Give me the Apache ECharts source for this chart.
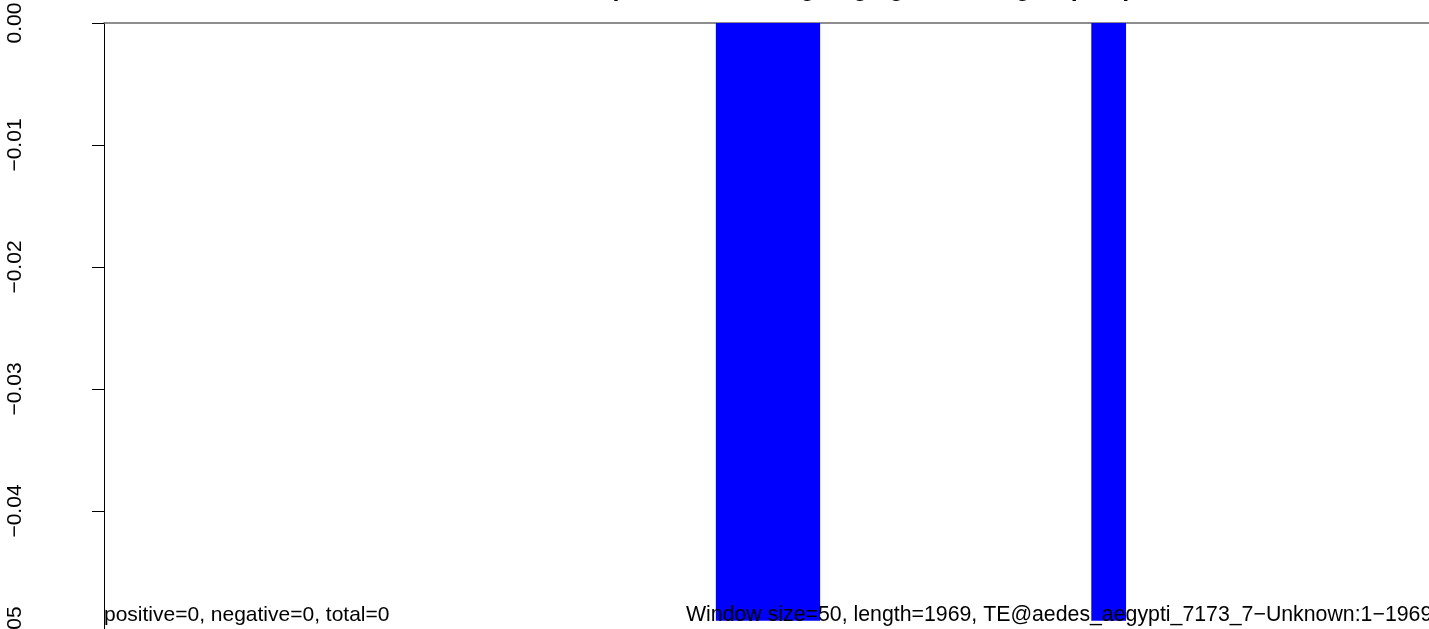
<!DOCTYPE html>
<html>
<head>
<meta charset="utf-8">
<script src="https://cdn.jsdelivr.net/npm/echarts@6/dist/echarts.min.js"></script>
<style>
  html, body { margin: 0; padding: 0; background: #ffffff; overflow: hidden; }
  #chart { width: 1473px; height: 640px; }
</style>
</head>
<body>
<div id="chart"></div>
<script>
// Data
const seqLength = 1969;
const windowStart = [880, 1420];      // bp
const windowEnd = [1030, 1470];       // bp
const windowValue = [-0.049, -0.049]; // bar depth
const yTicks = [0, -0.01, -0.02, -0.03, -0.04, -0.05];
const titleText = 'Strand-specific reads aligning against TE, grouped per window';
const leftNote = 'positive=0, negative=0, total=0';
const rightNote = 'Window size=50, length=1969, TE@aedes_aegypti_7173_7\u2212Unknown:1\u22121969';

const barData = windowStart.map((s, i) => [s, windowEnd[i], windowValue[i]]);

const dom = document.getElementById('chart');
const chart = echarts.init(dom, null, { renderer: 'canvas', width: 1473, height: 640 });
const font = '"Liberation Sans", Arial, Helvetica, sans-serif';

chart.setOption({
  animation: false,
  backgroundColor: '#ffffff',
  title: [
    { text: titleText, left: 506, top: -28,
      textStyle: { fontFamily: font, fontSize: 25, fontWeight: 'bold', color: '#000' } },
    { text: leftNote, left: 99, top: 600,
      textStyle: { fontFamily: font, fontSize: 21, fontWeight: 'normal', color: '#000' } },
    { text: rightNote, left: 681, top: 600,
      textStyle: { fontFamily: font, fontSize: 21.3, fontWeight: 'normal', color: '#000' } }
  ],
  grid: { left: 104, right: 0, top: 23, bottom: 7, containLabel: false, outerBoundsMode: 'none' },
  xAxis: {
    type: 'value', min: 0, max: seqLength, position: 'top',
    axisLine: { show: true, onZero: false, lineStyle: { color: '#6a6a6a', width: 1.5 } },
    axisTick: { show: false }, axisLabel: { show: false }, splitLine: { show: false }
  },
  yAxis: {
    type: 'value', min: yTicks[yTicks.length - 1], max: yTicks[0], interval: 0.01,
    position: 'left', offset: 54,
    axisLine: { show: true, lineStyle: { color: '#000', width: 1 } },
    axisTick: { show: true, length: 12, lineStyle: { color: '#000', width: 1 } },
    axisLabel: {
      rotate: 90, margin: 24, fontSize: 21, fontFamily: font, color: '#000',
      formatter: v => v.toFixed(2).replace('-', '\u2212')
    },
    splitLine: { show: false }
  },
  series: [{
    type: 'custom',
    data: barData,
    encode: { x: [0, 1], y: 2 },
    renderItem: function (params, api) {
      const p0 = api.coord([api.value(0), 0]);
      const p1 = api.coord([api.value(1), api.value(2)]);
      return {
        type: 'rect',
        shape: { x: p0[0], y: p0[1], width: p1[0] - p0[0], height: p1[1] - p0[1] },
        style: { fill: '#0000ff' }
      };
    },
    z: 1
  }]
});
</script>
</body>
</html>
